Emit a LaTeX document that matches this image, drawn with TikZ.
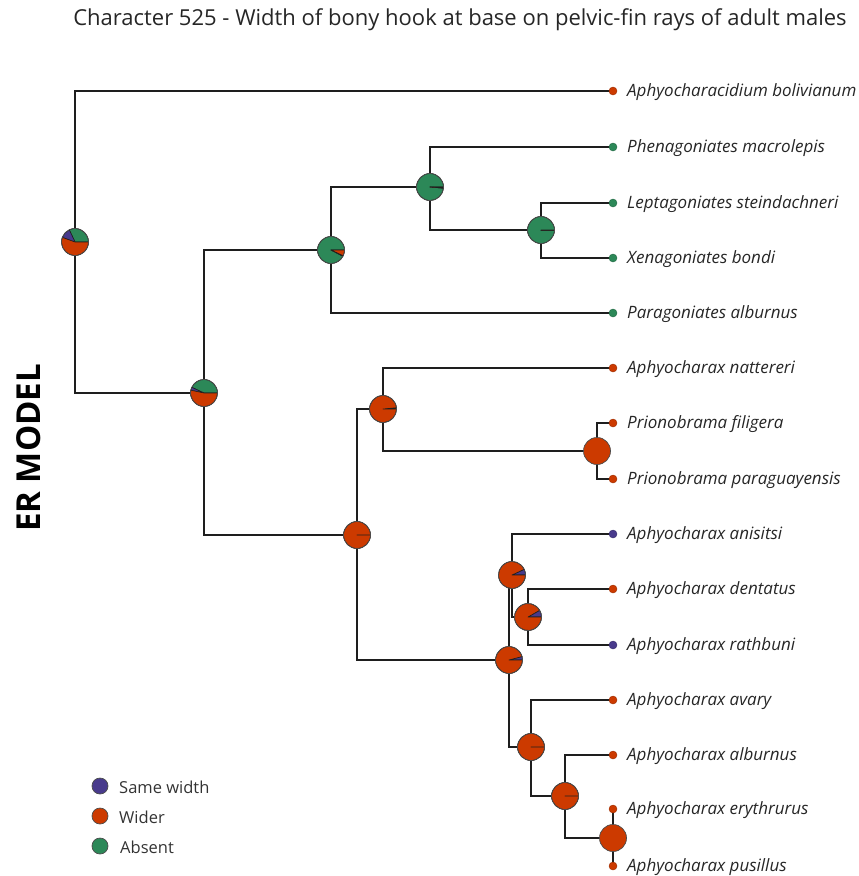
\documentclass[tikz,border=0pt]{standalone}
\usepackage{fontspec}
\setmainfont{Open Sans}
\definecolor{stS}{RGB}{72,58,140}
\definecolor{stW}{RGB}{204,58,0}
\definecolor{stA}{RGB}{44,136,88}
\definecolor{edgec}{RGB}{30,30,30}
\newcommand{\pr}{13.5}
% pie: green from 0 to #2, purple from #2 to #3, red from #3 to 360 (degrees, ccw)
\newcommand{\drawpie}[3]{%
  \filldraw[pieslice,fill=stA] (#1) -- ++(0:\pr) arc[start angle=0,end angle=#2,radius=\pr] -- cycle;
  \filldraw[pieslice,fill=stS] (#1) -- ++(#2:\pr) arc[start angle=#2,end angle=#3,radius=\pr] -- cycle;
  \filldraw[pieslice,fill=stW] (#1) -- ++(#3:\pr) arc[start angle=#3,end angle=360,radius=\pr] -- cycle;
  \draw[pierim] (#1) circle[radius=\pr];}
\newcommand{\fullpie}[2]{%
  \filldraw[pierim,fill=#2] (#1) circle[radius=\pr];}
\begin{document}
\begin{tikzpicture}[x=1pt,y=1pt,
  branch/.style={draw=edgec,line width=1.3pt},
  pieslice/.style={draw=edgec,line width=0.6pt,line join=round},
  pierim/.style={draw=edgec!80,line width=0.7pt},
  tipdot/.style={circle,inner sep=0pt,minimum size=8pt,draw=#1!75!black,line width=0.4pt,fill=#1},
  taxon/.style={anchor=west,yshift=-1.5pt,font=\fontsize{17}{20}\selectfont\itshape,text=black!85,inner sep=0pt},
  legdot/.style={circle,inner sep=0pt,minimum size=16pt,draw=edgec!80,line width=0.7pt,fill=#1},
  legtext/.style={anchor=west,yshift=-1pt,font=\fontsize{16.5}{19}\selectfont,text=black!80,inner sep=0pt}]
\useasboundingbox (0,0) rectangle (859,-876);

% internal nodes
\coordinate (root) at (75,-242);
\coordinate (nB) at (204,-393);
\coordinate (nC) at (331,-250);
\coordinate (nE) at (430,-187);
\coordinate (nF) at (541,-230);
\coordinate (nD) at (357,-535);
\coordinate (nG) at (383,-409);
\coordinate (nI) at (597,-451);
\coordinate (nH) at (509,-660);
\coordinate (nJ) at (512,-575);
\coordinate (nL) at (528,-617);
\coordinate (nK) at (531,-747);
\coordinate (nM) at (565,-796);
\coordinate (nN) at (613,-838);

% tips
\coordinate (t1) at (613,-91);
\coordinate (t2) at (613,-147);
\coordinate (t3) at (613,-203);
\coordinate (t4) at (613,-258);
\coordinate (t5) at (613,-313);
\coordinate (t6) at (613,-368);
\coordinate (t7) at (613,-423);
\coordinate (t8) at (613,-479);
\coordinate (t9) at (613,-534);
\coordinate (t10) at (613,-589);
\coordinate (t11) at (613,-645);
\coordinate (t12) at (613,-700);
\coordinate (t13) at (613,-755);
\coordinate (t14) at (613,-809);
\coordinate (t15) at (613,-866);

% branches
\draw[branch] (t1) -| (root) |- (nB);
\draw[branch] (nC) -| (nB) |- (nD);
\draw[branch] (nE) -| (nC) |- (t5);
\draw[branch] (t2) -| (nE) |- (nF);
\draw[branch] (t3) -| (nF) |- (t4);
\draw[branch] (nG) -| (nD) |- (nH);
\draw[branch] (t6) -| (nG) |- (nI);
\draw[branch] (t7) -| (nI) |- (t8);
\draw[branch] (nJ) -| (nH) |- (nK);
\draw[branch] (t9) -| (nJ) |- (nL);
\draw[branch] (t10) -| (nL) |- (t11);
\draw[branch] (t12) -| (nK) |- (nM);
\draw[branch] (t13) -| (nM) |- (nN);
\draw[branch] (t14) -- (t15);

% ancestral state pies
\drawpie{root}{115}{160}
\drawpie{nB}{155}{168}
\drawpie{nC}{332}{335}
\drawpie{nE}{355}{355.5}
\drawpie{nF}{360}{360}
\drawpie{nD}{0}{0}
\drawpie{nG}{5}{5.5}
\fullpie{nI}{stW}
\drawpie{nH}{0}{15}
\drawpie{nJ}{0}{25}
\drawpie{nL}{0}{30}
\drawpie{nK}{0}{0}
\drawpie{nM}{0}{0}
\fullpie{nN}{stW}

% tip states and names
\node[tipdot=stW] (d1) at (t1) {};
\node[tipdot=stA] (d2) at (t2) {};
\node[tipdot=stA] (d3) at (t3) {};
\node[tipdot=stA] (d4) at (t4) {};
\node[tipdot=stA] (d5) at (t5) {};
\node[tipdot=stW] (d6) at (t6) {};
\node[tipdot=stW] (d7) at (t7) {};
\node[tipdot=stW] (d8) at (t8) {};
\node[tipdot=stS] (d9) at (t9) {};
\node[tipdot=stW] (d10) at (t10) {};
\node[tipdot=stS] (d11) at (t11) {};
\node[tipdot=stW] (d12) at (t12) {};
\node[tipdot=stW] (d13) at (t13) {};
\node[tipdot=stW] (d14) at (t14) {};
\node[tipdot=stW] (d15) at (t15) {};

\node[taxon] (l1) at (627,-91) {Aphyocharacidium bolivianum};
\node[taxon] (l2) at (627,-147) {Phenagoniates macrolepis};
\node[taxon] (l3) at (627,-203) {Leptagoniates steindachneri};
\node[taxon] (l4) at (627,-258) {Xenagoniates bondi};
\node[taxon] (l5) at (627,-313) {Paragoniates alburnus};
\node[taxon] (l6) at (627,-368) {Aphyocharax nattereri};
\node[taxon] (l7) at (627,-423) {Prionobrama filigera};
\node[taxon] (l8) at (627,-479) {Prionobrama paraguayensis};
\node[taxon] (l9) at (627,-534) {Aphyocharax anisitsi};
\node[taxon] (l10) at (627,-589) {Aphyocharax dentatus};
\node[taxon] (l11) at (627,-645) {Aphyocharax rathbuni};
\node[taxon] (l12) at (627,-700) {Aphyocharax avary};
\node[taxon] (l13) at (627,-755) {Aphyocharax alburnus};
\node[taxon] (l14) at (627,-809) {Aphyocharax erythrurus};
\node[taxon] (l15) at (627,-866) {Aphyocharax pusillus};

% title and side label
\node[font=\fontsize{22}{25}\selectfont,text=black!85] (title) at (460,-20) {Character 525 - Width of bony hook at base on pelvic-fin rays of adult males};
\node[font=\fontsize{33}{36}\selectfont\bfseries,rotate=90] (model) at (29,-448) {ER MODEL};

% legend
\node[legdot=stS] (k1) at (100,-786) {};
\node[legdot=stW] (k2) at (100,-816) {};
\node[legdot=stA] (k3) at (100,-846) {};
\node[legtext] (kt1) at (119,-786) {Same width};
\node[legtext] (kt2) at (119,-816) {Wider};
\node[legtext] (kt3) at (120,-846) {Absent};
\end{tikzpicture}
\end{document}
